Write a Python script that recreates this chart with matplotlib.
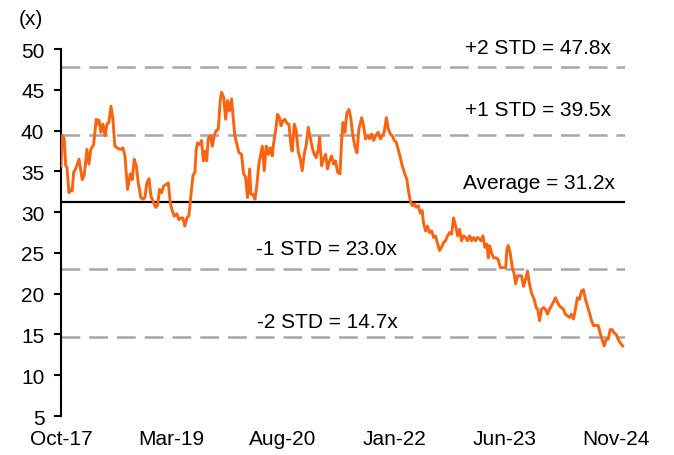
import pandas as pd
import matplotlib
matplotlib.use("Agg")
import matplotlib.pyplot as plt

plt.rcParams['font.family'] = ['Liberation Sans', 'DejaVu Sans']

# forward P/E (x)
dates = [
    '2017-10-01', '2017-10-07', '2017-10-16', '2017-10-23', '2017-10-29', '2017-11-07',
    '2017-11-16', '2017-11-22', '2017-11-29', '2017-12-08', '2017-12-24', '2018-01-08',
    '2018-01-17', '2018-01-30', '2018-02-08', '2018-02-17', '2018-03-02', '2018-03-08',
    '2018-03-14', '2018-03-20', '2018-03-27', '2018-04-05', '2018-04-14', '2018-04-24',
    '2018-05-03', '2018-05-12', '2018-05-22', '2018-05-31', '2018-06-09', '2018-06-25',
    '2018-07-07', '2018-07-16', '2018-07-26', '2018-08-07', '2018-08-20', '2018-08-29',
    '2018-09-07', '2018-09-17', '2018-09-26', '2018-10-08', '2018-10-18', '2018-10-27',
    '2018-11-05', '2018-11-15', '2018-11-24', '2018-12-06', '2018-12-16', '2018-12-25',
    '2019-01-03', '2019-01-13', '2019-01-22', '2019-02-03', '2019-02-13', '2019-02-22',
    '2019-03-03', '2019-03-13', '2019-03-25', '2019-04-03', '2019-04-13', '2019-04-22',
    '2019-05-01', '2019-05-11', '2019-05-20', '2019-05-29', '2019-06-08', '2019-06-17',
    '2019-06-23', '2019-06-29', '2019-07-09',
    '2019-07-18', '2019-07-26', '2019-08-03', '2019-08-11', '2019-08-18', '2019-08-28',
    '2019-09-06', '2019-09-15', '2019-09-24', '2019-10-04', '2019-10-13', '2019-10-19',
    '2019-10-29', '2019-11-07', '2019-11-16', '2019-11-25', '2019-12-05', '2019-12-11',
    '2019-12-20', '2019-12-30', '2020-01-08', '2020-01-20', '2020-01-30', '2020-02-08',
    '2020-02-17', '2020-02-27', '2020-03-04', '2020-03-13', '2020-03-23', '2020-04-01',
    '2020-04-10', '2020-04-19', '2020-04-26', '2020-05-05', '2020-05-14', '2020-05-24',
    '2020-06-02', '2020-06-11', '2020-06-17', '2020-06-27', '2020-07-06', '2020-07-15',
    '2020-07-22', '2020-07-31', '2020-08-09', '2020-08-19', '2020-08-28', '2020-09-06',
    '2020-09-12', '2020-09-22', '2020-10-01', '2020-10-10', '2020-10-20', '2020-10-29',
    '2020-11-07', '2020-11-17', '2020-11-26', '2020-12-05', '2020-12-15', '2020-12-24',
    '2021-01-02', '2021-01-12', '2021-01-18', '2021-01-27', '2021-02-05', '2021-02-15',
    '2021-02-24', '2021-03-05', '2021-03-15', '2021-03-24', '2021-04-02', '2021-04-12',
    '2021-04-23',
    '2021-05-01', '2021-05-07', '2021-05-16', '2021-05-25', '2021-06-04', '2021-06-13',
    '2021-06-22', '2021-07-01', '2021-07-11', '2021-07-20', '2021-08-02', '2021-08-11',
    '2021-08-20', '2021-08-30', '2021-09-08', '2021-09-17', '2021-09-27', '2021-10-06',
    '2021-10-18', '2021-10-28', '2021-11-06', '2021-11-15', '2021-11-25', '2021-12-04',
    '2021-12-13', '2021-12-22', '2022-01-01', '2022-01-10', '2022-01-19', '2022-01-29',
    '2022-02-07', '2022-02-19', '2022-02-28', '2022-03-07', '2022-03-16', '2022-03-26',
    '2022-04-04', '2022-04-13', '2022-04-23', '2022-05-02', '2022-05-11', '2022-05-17',
    '2022-05-27', '2022-06-05', '2022-06-14', '2022-06-24', '2022-07-03', '2022-07-12',
    '2022-07-22', '2022-07-31', '2022-08-09', '2022-08-19', '2022-08-28', '2022-09-06',
    '2022-09-16', '2022-09-25', '2022-10-04', '2022-10-14', '2022-10-23', '2022-11-01',
    '2022-11-10', '2022-11-20', '2022-11-29', '2022-12-08', '2022-12-18', '2022-12-27',
    '2023-01-05', '2023-01-15', '2023-01-24', '2023-02-04',
    '2023-02-09', '2023-02-18', '2023-02-27', '2023-03-08', '2023-03-15', '2023-03-21',
    '2023-03-30', '2023-04-09', '2023-04-21', '2023-04-30', '2023-05-10', '2023-05-22',
    '2023-06-04', '2023-06-10', '2023-06-16', '2023-06-25', '2023-07-05', '2023-07-14',
    '2023-07-20', '2023-07-30', '2023-08-08', '2023-08-17', '2023-08-26', '2023-09-05',
    '2023-09-14', '2023-09-23', '2023-10-02', '2023-10-15', '2023-10-24', '2023-10-31',
    '2023-11-09', '2023-11-18', '2023-11-27', '2023-12-06', '2023-12-16', '2023-12-25',
    '2024-01-03', '2024-01-13', '2024-01-22', '2024-02-01', '2024-02-10', '2024-02-19',
    '2024-02-28', '2024-03-08', '2024-03-18', '2024-03-27', '2024-04-05', '2024-04-15',
    '2024-04-24', '2024-05-03', '2024-05-13', '2024-05-22', '2024-05-31', '2024-06-10',
    '2024-06-19', '2024-06-28', '2024-07-08', '2024-07-17', '2024-07-26', '2024-08-08',
    '2024-08-17', '2024-08-26', '2024-09-05', '2024-09-14', '2024-09-23', '2024-10-03',
    '2024-10-12', '2024-10-21', '2024-10-31', '2024-11-09', '2024-11-18', '2024-11-30',
]
pe = [
    35.7, 39.4, 39.0, 35.7, 35.5, 32.4,
    32.8, 32.6, 34.9, 35.3, 36.5, 34.0,
    34.5, 37.7, 35.9, 37.7, 38.3, 39.8,
    41.4, 40.8, 41.3, 39.8, 40.8, 39.4,
    40.8, 41.0, 43.0, 41.4, 38.1, 37.8,
    37.7, 37.9, 36.9, 32.8, 34.7, 34.0,
    36.5, 35.7, 33.6, 31.8, 31.6, 31.8,
    33.6, 34.1, 32.0, 31.2, 30.6, 30.8,
    32.8, 32.4, 33.2, 33.4, 33.6, 31.2,
    30.2, 29.5, 29.8, 29.1, 29.3, 29.3,
    28.3, 29.3, 29.6, 32.0, 34.5, 34.9,
    37.7, 38.5, 38.3,
    38.8, 36.3, 37.5, 36.3, 39.0, 39.4,
    38.1, 39.4, 40.0, 40.2, 43.7, 44.7,
    44.1, 41.4, 43.7, 42.4, 43.9, 42.0,
    39.4, 38.3, 37.3, 37.1, 34.7, 34.3,
    31.8, 35.3, 32.2, 32.2, 31.6, 33.4,
    35.9, 37.1, 38.1, 35.1, 38.1, 37.1,
    37.9, 36.9, 38.3, 40.0, 42.0, 41.6,
    40.6, 41.2, 41.4, 40.9, 40.8, 38.3,
    37.5, 40.8, 40.0, 37.5, 36.5, 35.1,
    37.1, 38.3, 40.4, 39.2, 37.9, 37.1,
    36.7, 37.7, 39.2, 35.7, 36.5, 37.1,
    35.3, 36.3, 36.9, 35.9, 36.3, 34.9,
    34.7,
    39.0, 41.0, 39.8, 42.2, 42.6, 41.4,
    39.4, 38.1, 37.3, 40.2, 41.6, 40.6,
    39.0, 39.4, 39.0, 39.6, 38.8, 39.4,
    39.8, 39.0, 39.4, 39.8, 41.6, 40.2,
    39.6, 39.4, 38.8, 38.6, 37.7, 36.7,
    35.7, 34.7, 34.1, 32.8, 31.4, 30.8,
    31.0, 30.6, 30.8, 29.9, 30.2, 28.7,
    27.7, 28.3, 27.5, 27.7, 26.9, 27.1,
    26.1, 25.3, 25.7, 26.3, 26.5, 27.1,
    27.5, 27.3, 29.3, 28.3, 27.1, 27.9,
    26.5, 27.1, 26.9, 26.5, 27.1, 26.5,
    26.9, 26.5, 26.9, 26.7,
    26.5, 27.1, 25.7, 26.1, 24.4, 25.9,
    25.0, 24.4, 24.4, 24.2, 23.2, 23.2,
    23.2, 25.5, 25.9, 25.0, 23.2, 22.4,
    21.2, 22.2, 22.2, 22.2, 20.9, 21.8,
    22.8, 21.2, 20.1, 19.3, 18.3, 18.1,
    16.7, 18.1, 18.3, 18.1, 17.5, 18.1,
    18.5, 19.0, 19.5, 18.9, 18.5, 18.3,
    18.1, 17.5, 17.3, 17.1, 17.5, 16.9,
    18.1, 19.5, 19.3, 20.3, 20.5, 19.3,
    18.5, 17.7, 16.7, 16.1, 16.1, 16.1,
    15.2, 14.4, 13.6, 14.4, 14.4, 15.6,
    15.6, 15.2, 15.0, 14.4, 14.0, 13.6,
]

avg = 31.2
bands = [47.8, 39.5, 23.0, 14.7]
band_labels = ['+2 STD = 47.8x', '+1 STD = 39.5x', '-1 STD = 23.0x', '-2 STD = 14.7x']
tick_dates = ['2017-10-01', '2019-03-01', '2020-08-01', '2022-01-01', '2023-06-01', '2024-11-01']
tick_labels = ['Oct-17', 'Mar-19', 'Aug-20', 'Jan-22', 'Jun-23', 'Nov-24']

x = pd.to_datetime(dates)
x0, x1 = pd.Timestamp('2017-10-01'), pd.Timestamp('2024-12-10')

fig = plt.figure(figsize=(6.74, 4.56), dpi=100)
ax = fig.add_axes([0.0905, 0.0855, 0.8365, 0.8045])

for b in bands:
    ax.plot([x0, x1], [b, b], color='#A6A6A6', lw=1.8, dashes=(7.5, 3.6), zorder=1)
ax.plot([x0, x1], [avg, avg], color='black', lw=1.6, zorder=2)
ax.plot(x, pe, color='#FA6311', lw=2.1, zorder=3)

fs = 15
yt = ax.get_yaxis_transform()
ax.text(0.975, 50.2, band_labels[0], transform=yt, ha='right', va='center', fontsize=fs, clip_on=False)
ax.text(0.975, 42.6, band_labels[1], transform=yt, ha='right', va='center', fontsize=fs)
ax.text(0.983, 33.6, 'Average = 31.2x', transform=yt, ha='right', va='center', fontsize=fs)
ax.text(0.345, 25.5, band_labels[2], transform=yt, ha='left', va='center', fontsize=fs)
ax.text(0.347, 16.6, band_labels[3], transform=yt, ha='left', va='center', fontsize=fs)

ax.set_xlim(x0, x1)
ax.set_ylim(5, 50)
ax.set_yticks(range(5, 51, 5))
ax.set_xticks(pd.to_datetime(tick_dates))
ax.set_xticklabels(tick_labels)

for s in ['top', 'right', 'bottom']:
    ax.spines[s].set_visible(False)
ax.spines['left'].set_linewidth(1.5)
ax.tick_params(axis='y', length=5, width=1.5, pad=7, labelsize=fs)
ax.tick_params(axis='x', length=0, pad=9, labelsize=fs)

fig.text(0.046, 0.958, '(x)', ha='center', va='center', fontsize=fs)

fig.savefig('out.png', dpi=100)
